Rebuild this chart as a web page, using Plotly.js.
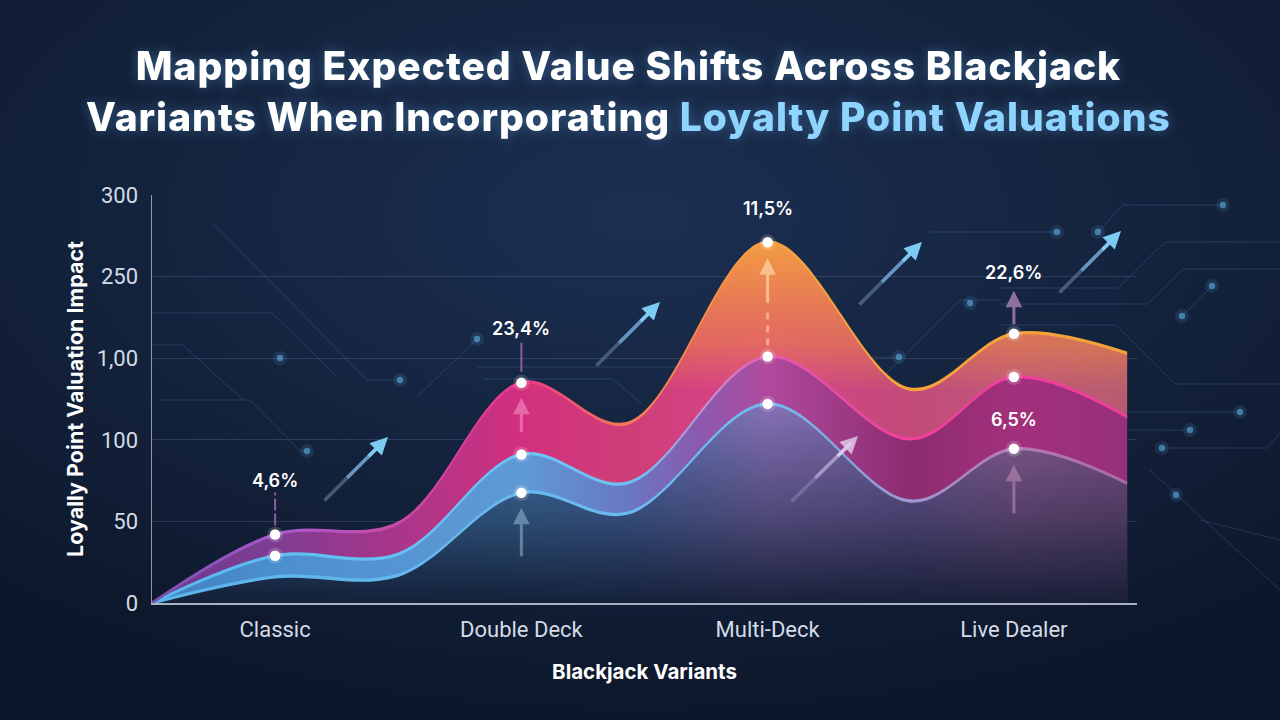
<!DOCTYPE html>
<html>
<head>
<meta charset="utf-8">
<script src="https://cdn.plot.ly/plotly-3.0.1.min.js"></script>
<style>
  html, body { margin: 0; padding: 0; }
  body {
    width: 1280px; height: 720px; overflow: hidden;
    background: radial-gradient(ellipse 75% 70% at 50% 30%, #1c2f52 0%, #152540 45%, #0d172b 100%);
    font-family: Inter, Roboto, sans-serif;
  }
  #chart { width: 1280px; height: 720px; }
  .gtitle { letter-spacing: 1px; filter: drop-shadow(0 0 6px rgba(110, 190, 255, 0.35)); }
</style>
</head>
<body>
<div id="chart"></div>
<script>
// ---- data -------------------------------------------------------------
const variants = ['Classic', 'Double Deck', 'Multi-Deck', 'Live Dealer'];
const variantPos = [1, 2, 3, 4];
// positions along the variant axis where each curve is sampled
const knots = [0.5, 1, 1.5, 2, 2.43, 3, 3.58, 4, 4.46];
// impact curves (axis units)
const topSeries  = [0, 42, 49, 135, 110, 221, 131, 165, 153];
const midSeries  = [0, 29, 30, 91, 73.5, 151, 100.5, 138.5, 114];
const baseSeries = [0, 16, 17, 67.5, 55, 122, 62.5, 94.5, 73.5];
// y-axis ticks
const yTickVals = [0, 50, 100, 150, 200, 250];
const yTickText = ['0', '50', '100', '1,00', '250', '300'];
// shift labels
const topShiftLabels = ['4,6%', '23,4%', '11,5%', '22,6%'];
const baseShiftLabel = '6,5%';

// ---- layout geometry ---------------------------------------------------
const W = 1280, H = 720;
const M = { l: 152, r: 143, t: 195, b: 117 };
const plotW = W - M.l - M.r, plotH = H - M.t - M.b;
const toPaper = ([px, py]) => [(px - M.l) / plotW, (H - M.b - py) / plotH];

const at = (series, pos) => series[knots.indexOf(pos)];

// ---- traces -------------------------------------------------------------
const common = { x: knots, mode: 'lines', line: { shape: 'spline', smoothing: 1, width: 0 }, hoverinfo: 'skip', showlegend: false };

const traces = [];
// area under the base curve, tinted across the variants
traces.push({ ...common, y: baseSeries, fill: 'tozeroy',
  fillgradient: { type: 'horizontal', colorscale: [
    [0, '#2e5b88'], [0.126, '#3a6ea3'], [0.379, '#4479ae'], [0.487, '#5072b2'],
    [0.631, '#8470b4'], [0.778, '#7560a0'], [0.884, '#8a5e94'], [1, '#7e5286']] } });
// darkening toward the baseline
traces.push({ ...common, y: baseSeries, fill: 'tozeroy',
  fillgradient: { type: 'vertical', start: 0, stop: 120, colorscale: [
    [0, 'rgba(16,26,48,0.92)'], [0.45, 'rgba(16,26,48,0.45)'], [1, 'rgba(16,26,48,0)']] } });
// band between base and mid curves
traces.push({ ...common, y: midSeries, fill: 'tonexty',
  fillgradient: { type: 'horizontal', colorscale: [
    [0, '#3f7fbf'], [0.126, '#4c8fcf'], [0.379, '#5f9ad6'], [0.487, '#6878c2'],
    [0.56, '#8a5ab0'], [0.631, '#b04a9e'], [0.778, '#8c2c70'], [0.884, '#a3307c'], [1, '#96307a']] } });
// band between mid and top curves
traces.push({ ...common, y: topSeries, fill: 'tonexty',
  fillgradient: { type: 'horizontal', colorscale: [
    [0, '#6a3a90'], [0.126, '#7e3d92'], [0.25, '#a8368a'], [0.379, '#d2307e'], [0.487, '#cf3e78'],
    [0.631, '#d8458c'], [0.778, '#c24a78'], [0.884, '#c0587a'], [1, '#b85c70']] } });
// warm glow toward the upper crest
traces.push({ ...common, y: midSeries });
traces.push({ ...common, y: topSeries, fill: 'tonexty',
  fillgradient: { type: 'vertical', start: 130, stop: 225, colorscale: [
    [0, 'rgba(238,140,60,0)'], [0.3, 'rgba(238,140,60,0.5)'], [1, 'rgba(245,165,60,0.95)']] } });

// curve strokes drawn as thin gradient ribbons
function ribbon(series, colorscale, half) {
  return [
    { ...common, y: series.map(v => v - half) },
    { ...common, y: series.map(v => v + half), fill: 'tonexty',
      fillgradient: { type: 'horizontal', colorscale } }
  ];
}
traces.push(...ribbon(baseSeries, [
  [0, '#5ab4ea'], [0.631, '#70bcee'], [0.70, '#80a8e0'], [0.778, '#a095d0'], [0.884, '#b47ab4'], [1, '#a86aa4']], 1.0));
traces.push(...ribbon(midSeries, [
  [0, '#5ab8ee'], [0.379, '#6cc6f5'], [0.5, '#6cc0f0'], [0.57, '#c690d0'], [0.631, '#e458ae'], [0.778, '#f0409c'], [1, '#f03c9a']], 1.0));
traces.push(...ribbon(topSeries, [
  [0, '#7a4fb0'], [0.126, '#a45ac8'], [0.25, '#c84aaa'], [0.379, '#ec368c'], [0.487, '#f27a55'],
  [0.631, '#f6a23c'], [0.778, '#f5a23c'], [1, '#f2a23a']], 1.05));

// variant markers
const markerSets = [
  { x: variantPos, y: variantPos.map(p => at(topSeries, p)) },
  { x: variantPos, y: variantPos.map(p => at(midSeries, p)) },
  { x: variantPos.slice(1), y: variantPos.slice(1).map(p => at(baseSeries, p)) }
];
markerSets.forEach(s => {
  traces.push({ x: s.x, y: s.y, mode: 'markers', hoverinfo: 'skip', showlegend: false,
    marker: { size: 16, color: 'rgba(255,255,255,0.16)' } });
  traces.push({ x: s.x, y: s.y, mode: 'markers', hoverinfo: 'skip', showlegend: false,
    marker: { size: 10.5, color: '#ffffff' } });
});

// ---- decorative circuit traces -----------------------------------------
const circuitPaths = [
  [[213, 223], [367, 380], [400, 380]],
  [[150, 313], [272, 313], [335, 375]],
  [[150, 345], [183, 345], [243, 400]],
  [[160, 400], [250, 400], [300, 451], [307, 451]],
  [[417, 397], [477, 339]],
  [[477, 367], [690, 367]],
  [[483, 379], [613, 379], [643, 405]],
  [[863, 357], [899, 357]],
  [[860, 400], [960, 300], [1000, 300]],
  [[930, 232], [1057, 232]],
  [[1098, 232], [1123, 205], [1223, 205]],
  [[1000, 288], [1118, 288], [1165, 242], [1280, 242]],
  [[1000, 304], [1148, 304], [1183, 269], [1280, 269]],
  [[1182, 316], [1212, 286]],
  [[1000, 325], [1116, 325], [1175, 384], [1280, 384]],
  [[1128, 412], [1240, 412]],
  [[1128, 430], [1190, 430]],
  [[1162, 448], [1267, 448], [1280, 433]],
  [[1150, 470], [1280, 590]],
  [[1200, 520], [1280, 540]]
];
const circuitDots = [
  [400, 380], [307, 451], [477, 339], [280, 358], [899, 357], [970, 303], [1057, 232], [1098, 232],
  [1223, 205], [1182, 316], [1212, 286], [1240, 412], [1190, 430], [1162, 448], [1176, 495]
];

const shapes = [];
circuitPaths.forEach(pts => {
  const d = pts.map((p, i) => { const [x, y] = toPaper(p); return (i ? 'L' : 'M') + x.toFixed(4) + ',' + y.toFixed(4); }).join(' ');
  shapes.push({ type: 'path', xref: 'paper', yref: 'paper', path: d, layer: 'below',
    line: { color: 'rgba(80,125,175,0.3)', width: 1 } });
});
circuitDots.forEach(p => {
  const [x, y] = toPaper(p);
  [[7, 'rgba(90,170,225,0.14)'], [3.2, 'rgba(95,175,225,0.6)']].forEach(([r, c]) => {
    shapes.push({ type: 'circle', xref: 'paper', yref: 'paper', xsizemode: 'pixel', ysizemode: 'pixel',
      xanchor: x, yanchor: y, x0: -r, x1: r, y0: -r, y1: r, layer: 'below',
      fillcolor: c, line: { width: 0 } });
  });
});
// dashed guide under the Multi-Deck crest
shapes.push({ type: 'line', xref: 'x', yref: 'y', x0: 3, x1: 3, ysizemode: 'pixel',
  yanchor: at(midSeries, 3), y0: 11, y1: 48, line: { color: 'rgba(255,215,175,0.55)', width: 3, dash: '7px,6px' } });
// dashed leader above the Classic point
shapes.push({ type: 'line', xref: 'x', yref: 'y', x0: 1, x1: 1, ysizemode: 'pixel',
  yanchor: at(topSeries, 1), y0: 9, y1: 42, line: { color: 'rgba(175,105,185,0.8)', width: 2, dash: '12px,3px' } });
// leader above the Double Deck point
shapes.push({ type: 'line', xref: 'x', yref: 'y', x0: 2, x1: 2, ysizemode: 'pixel',
  yanchor: at(topSeries, 2), y0: 11, y1: 40, line: { color: 'rgba(175,105,185,0.8)', width: 2 } });

// ---- annotations --------------------------------------------------------
const annotations = [];
const labelFont = { family: 'Inter, Roboto, sans-serif', size: 18, color: '#ffffff', weight: 600 };
const labelShift = [54, 54, 34, 61];
variantPos.forEach((p, i) => {
  annotations.push({ x: p, y: at(topSeries, p), xref: 'x', yref: 'y', text: topShiftLabels[i],
    showarrow: false, yshift: labelShift[i], font: labelFont });
});
annotations.push({ x: 4, y: at(baseSeries, 4), xref: 'x', yref: 'y', text: baseShiftLabel,
  showarrow: false, yshift: 29, font: labelFont });

function pointer(x, y, shift, len, color) {
  annotations.push({ x, y, xref: 'x', yref: 'y', ax: 0, ay: len, axref: 'pixel', ayref: 'pixel',
    text: '', showarrow: true, yshift: shift, arrowcolor: color, arrowwidth: 3,
    arrowhead: 2, arrowsize: 1.1, standoff: 0, startstandoff: 0 });
}
// rising pointers
pointer(2, at(topSeries, 2), -15, 36, 'rgba(245,140,195,0.6)');
pointer(2, at(baseSeries, 2), -15, 50, 'rgba(150,185,210,0.55)');
pointer(3, at(topSeries, 3), -16, 46, 'rgba(255,215,170,0.7)');
pointer(4, at(topSeries, 4), 43, 35, 'rgba(165,125,175,0.85)');
pointer(4, at(baseSeries, 4), -16, 50, 'rgba(205,150,195,0.5)');

// diagonal trend arrows, brightening from tail to head (stacked strokes)
const trendArrows = [
  { head: [388, 437], tail: [323, 502], pale: false },
  { head: [660, 302], tail: [595, 367], pale: false },
  { head: [922, 242], tail: [858, 306], pale: false },
  { head: [1121, 231], tail: [1058, 294], pale: false },
  { head: [858, 436], tail: [790, 503], pale: true }
];
const blueSteps = [[0, 0.9, 'rgba(100,120,155,0.65)'], [0.35, 0.9, 'rgba(108,160,205,0.85)'], [0.68, 1, 'rgba(125,202,242,1)']];
const paleSteps = [[0, 0.9, 'rgba(160,150,195,0.4)'], [0.35, 0.9, 'rgba(200,185,225,0.55)'], [0.68, 1, 'rgba(232,218,242,0.75)']];
trendArrows.forEach(a => {
  const steps = a.pale ? paleSteps : blueSteps;
  const dx = a.head[0] - a.tail[0], dy = a.head[1] - a.tail[1];
  steps.forEach(([f0, f1, color], k) => {
    const s = [a.tail[0] + dx * f0, a.tail[1] + dy * f0];
    const e = [a.tail[0] + dx * f1, a.tail[1] + dy * f1];
    const [x, y] = toPaper(e);
    const last = k === steps.length - 1;
    annotations.push({ x, y, xref: 'paper', yref: 'paper', ax: s[0] - e[0], ay: s[1] - e[1],
      axref: 'pixel', ayref: 'pixel', text: '', showarrow: true, arrowcolor: color, arrowwidth: 3.5,
      arrowhead: last ? 2 : 0, arrowsize: 1, standoff: 0, startstandoff: 0 });
  });
});

// ---- layout -------------------------------------------------------------
const layout = {
  width: W, height: H,
  margin: M,
  paper_bgcolor: 'rgba(0,0,0,0)',
  plot_bgcolor: 'rgba(0,0,0,0)',
  showlegend: false,
  title: {
    text: 'Mapping Expected Value Shifts Across Blackjack<br>Variants When Incorporating <span style="color:#8fd4ff">Loyalty Point Valuations</span>',
    x: 0.491, xanchor: 'center', y: 1 - 80 / H, yanchor: 'middle',
    font: { family: 'Inter, Roboto, sans-serif', size: 39, color: '#ffffff', weight: 800 }
  },
  xaxis: {
    range: [0.5, 4.5], tickvals: variantPos, ticktext: variants,
    showgrid: false, zeroline: false, showline: true, linecolor: 'rgba(195,205,220,0.85)', linewidth: 2,
    ticks: '', ticklabelstandoff: 6,
    tickfont: { family: 'Roboto, Inter, sans-serif', size: 22, color: '#d4dbe6' },
    title: { text: 'Blackjack Variants', standoff: 23,
      font: { family: 'Inter, Roboto, sans-serif', size: 20.5, color: '#ffffff', weight: 700 } },
    fixedrange: true
  },
  yaxis: {
    range: [0, 250], tickvals: yTickVals, ticktext: yTickText,
    showgrid: true, gridcolor: 'rgba(130,150,190,0.22)', gridwidth: 1,
    zeroline: false, showline: true, linecolor: 'rgba(195,205,220,0.7)', linewidth: 1.5,
    ticks: '', ticklabelstandoff: 8,
    tickfont: { family: 'Roboto, Inter, sans-serif', size: 22, color: '#d4dbe6' },
    title: { text: 'Loyally Point Valuation Impact', standoff: 7,
      font: { family: 'Inter, Roboto, sans-serif', size: 21.5, color: '#ffffff', weight: 700 } },
    fixedrange: true
  },
  shapes, annotations
};

Plotly.newPlot('chart', traces, layout, { displayModeBar: false, staticPlot: true });
</script>
</body>
</html>
